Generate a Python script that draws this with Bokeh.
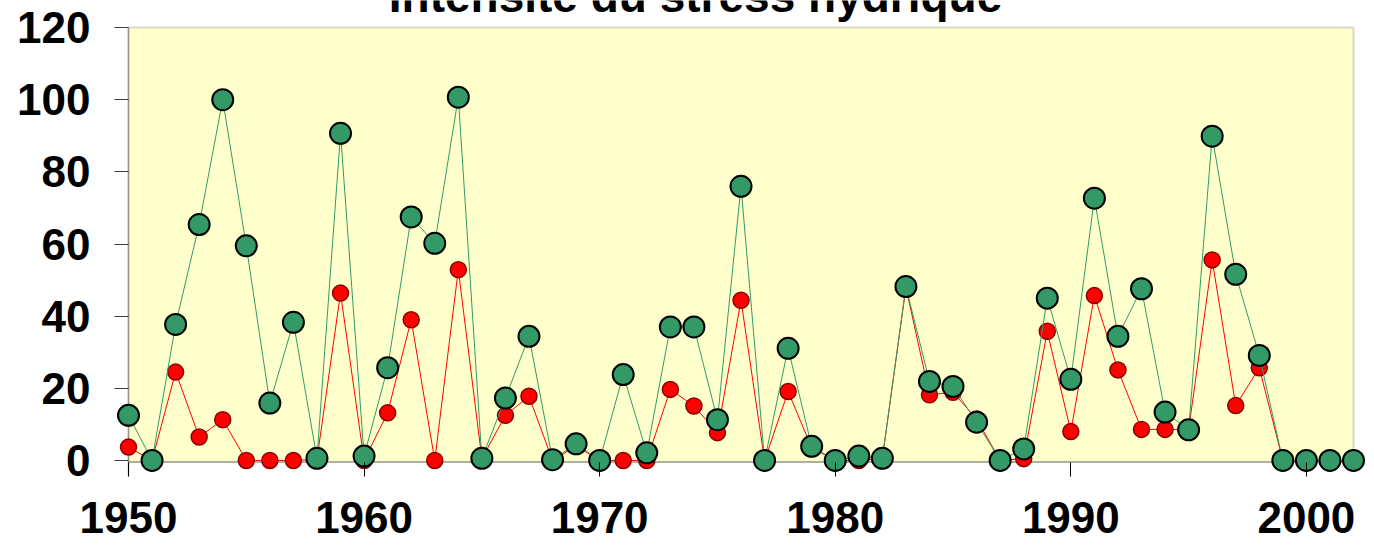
from bokeh.plotting import figure
from bokeh.models import Range1d, FixedTicker, BoxAnnotation, Label
from bokeh.embed import file_html
from bokeh.resources import INLINE

years = list(range(1950, 2003))
stress_red = [3.7, 0, 24.5, 6.5, 11.3, 0, 0, 0, 0.3, 46.4,
              0, 13.2, 39.0, 0, 52.9, 0.5, 12.5, 17.8, 0, 4.0,
              0, 0, 0, 19.7, 15.1, 7.7, 44.4, 0, 19.1, 3.5,
              0, 0, 0.5, 48.0, 18.2, 18.9, 11.5, 0, 0.5, 35.8,
              8.0, 45.7, 25.1, 8.6, 8.6, 8.5, 55.6, 15.2, 25.7, 0,
              0, 0, 0]
stress_green = [12.5, 0, 37.7, 65.4, 100.0, 59.5, 15.9, 38.3, 0.6, 90.7,
                1.2, 25.7, 67.5, 60.2, 100.7, 0.6, 17.3, 34.4, 0.2, 4.6,
                0, 23.8, 2.1, 37.0, 37.0, 11.3, 76.0, 0, 31.1, 3.9,
                0, 1.2, 0.6, 48.2, 21.9, 20.5, 10.6, 0, 3.2, 45.0,
                22.5, 72.7, 34.4, 47.6, 13.4, 8.5, 89.9, 51.6, 29.1, 0,
                0, 0, 0]
x_ticks = [1950, 1960, 1970, 1980, 1990, 2000]
y_ticks = [0, 20, 40, 60, 80, 100, 120]
title_text = "Intensité du stress hydrique"

px_per_year = 23.558
px_per_unit = 3.607
x_start = 1950 - 14 / px_per_year
x_end = x_start + 1260 / px_per_year
y_end = 120 + 27.1 / px_per_unit
y_start = 120 - 448.9 / px_per_unit

p = figure(width=1374, height=550, output_backend="svg", toolbar_location=None,
           x_range=Range1d(x_start, x_end), y_range=Range1d(y_start, y_end),
           min_border_left=114, min_border_right=0, min_border_top=0,
           min_border_bottom=74)
p.outline_line_color = None
p.background_fill_color = "white"
p.border_fill_color = "white"
p.xgrid.visible = False
p.ygrid.visible = False

# plot area (pale yellow with grey border), dark time axis, black value-axis line
p.add_layout(BoxAnnotation(left=1950, right=2002, bottom=-0.4, top=120,
                           fill_color="#FFFFCC", fill_alpha=1.0,
                           line_color="#808080", line_width=2, level="underlay"))
p.add_layout(BoxAnnotation(left=1950, right=2002, bottom=-0.4, top=-0.4,
                           fill_color=None, line_color="#505050",
                           line_width=2, level="underlay"))
p.add_layout(BoxAnnotation(left=1950, right=1950, bottom=y_start, top=120,
                           fill_color=None, line_color="black",
                           line_width=1.5, level="underlay"))

p.line(years, stress_red, line_color="#FF0000", line_width=1)
p.scatter(years, stress_red, size=16, fill_color="#FF0000",
          line_color="#8B0000", line_width=1.5)
p.line(years, stress_green, line_color="#339966", line_width=1)
p.scatter(years, stress_green, size=21, fill_color="#339966",
          line_color="black", line_width=2)

xa = p.xaxis[0]
xa.ticker = FixedTicker(ticks=x_ticks)
xa.axis_line_color = None
xa.major_tick_in = 14
xa.major_tick_out = 0
xa.major_tick_line_color = "black"
xa.minor_tick_line_color = None
xa.major_label_text_font = "Liberation Sans"
xa.major_label_text_font_style = "bold"
xa.major_label_text_font_size = "44px"
xa.major_label_text_color = "black"
xa.major_label_standoff = 25

ya = p.yaxis[0]
ya.ticker = FixedTicker(ticks=y_ticks)
ya.axis_line_color = None
ya.major_tick_in = 14
ya.major_tick_out = 0
ya.major_tick_line_color = "#404040"
ya.minor_tick_line_color = None
ya.major_label_text_font = "Liberation Sans"
ya.major_label_text_font_style = "bold"
ya.major_label_text_font_size = "44px"
ya.major_label_text_color = "black"
ya.major_label_standoff = 24

# title, mostly cut off by the top edge as in the original picture
p.add_layout(Label(x=1974.07, y=120 + (27.1 + 5) / px_per_unit,
                   text=title_text, text_align="center", text_baseline="middle",
                   text_font="Liberation Sans", text_font_style="bold",
                   text_font_size="46px", text_color="black"))

open("out.html", "w").write(file_html(p, INLINE))
